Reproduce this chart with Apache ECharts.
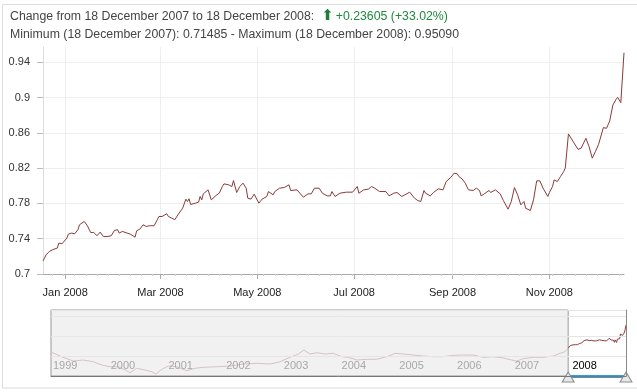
<!DOCTYPE html>
<html><head><meta charset="utf-8">
<script src="https://cdn.jsdelivr.net/npm/echarts@6/dist/echarts.min.js"></script>
<style>html,body{margin:0;padding:0;background:#fff}#c{width:637px;height:392px}</style>
</head><body><div id="c"></div>
<script>
// ---- data ----
const periodStart = '2007-12-18';
const periodEnd = '2008-12-18';
const historyStart = '1999-01-01';

const dates2008 = [
'2007-12-18','2007-12-20','2007-12-22','2007-12-24','2007-12-27','2007-12-28','2007-12-30','2007-12-31',
'2008-01-02','2008-01-03','2008-01-05','2008-01-07','2008-01-09','2008-01-10','2008-01-13','2008-01-15','2008-01-17','2008-01-19','2008-01-21','2008-01-23','2008-01-25','2008-01-28','2008-01-30',
'2008-02-01','2008-02-03','2008-02-04','2008-02-06','2008-02-07','2008-02-09','2008-02-11','2008-02-14','2008-02-15','2008-02-17','2008-02-19','2008-02-21','2008-02-23','2008-02-26','2008-02-28','2008-02-29',
'2008-03-02','2008-03-05','2008-03-06','2008-03-08','2008-03-10','2008-03-12','2008-03-13','2008-03-15','2008-03-17','2008-03-18','2008-03-19','2008-03-20','2008-03-23','2008-03-25','2008-03-26','2008-03-27','2008-03-28','2008-03-31',
'2008-04-02','2008-04-05','2008-04-07','2008-04-09','2008-04-10','2008-04-13','2008-04-15','2008-04-16','2008-04-18','2008-04-20','2008-04-22','2008-04-24','2008-04-25','2008-04-27','2008-04-29',
'2008-05-02','2008-05-04','2008-05-07','2008-05-08','2008-05-11','2008-05-12','2008-05-15','2008-05-18','2008-05-21','2008-05-22','2008-05-26','2008-05-30',
'2008-06-02','2008-06-04','2008-06-06','2008-06-09','2008-06-11','2008-06-14','2008-06-16','2008-06-17','2008-06-19','2008-06-22','2008-06-26','2008-06-30',
'2008-07-03','2008-07-04','2008-07-07','2008-07-10','2008-07-12','2008-07-14','2008-07-17','2008-07-21','2008-07-23','2008-07-26','2008-07-28','2008-07-31',
'2008-08-02','2008-08-05','2008-08-08','2008-08-10','2008-08-12','2008-08-14','2008-08-15','2008-08-18','2008-08-20','2008-08-23','2008-08-26','2008-08-28','2008-08-31',
'2008-09-02','2008-09-04','2008-09-05','2008-09-07','2008-09-09','2008-09-11','2008-09-12','2008-09-14','2008-09-16','2008-09-18','2008-09-19','2008-09-21','2008-09-24','2008-09-25','2008-09-28','2008-09-29',
'2008-10-01','2008-10-03','2008-10-06','2008-10-08','2008-10-10','2008-10-12','2008-10-14','2008-10-16','2008-10-17','2008-10-20','2008-10-22','2008-10-24','2008-10-26','2008-10-28','2008-10-31',
'2008-11-01','2008-11-03','2008-11-04','2008-11-06','2008-11-08','2008-11-10','2008-11-11','2008-11-13','2008-11-16','2008-11-19','2008-11-21','2008-11-24','2008-11-26','2008-11-28','2008-11-30',
'2008-12-02','2008-12-05','2008-12-07','2008-12-09','2008-12-11','2008-12-13','2008-12-14','2008-12-16','2008-12-18'
];
const values2008 = [
0.71485,0.7219,0.7256,0.7275,0.7294,0.7351,0.7343,0.7343,
0.7407,0.7452,0.7464,0.7456,0.7502,0.7558,0.7596,0.7547,0.7471,0.7471,0.7434,0.7475,0.7426,0.7426,0.7434,
0.7494,0.7502,0.7464,0.7483,0.7464,0.7464,0.7452,0.7418,0.7490,0.7509,0.7558,0.7539,0.7547,0.7547,0.7615,0.7652,
0.7652,0.7683,0.7652,0.7634,0.7615,0.7671,0.7683,0.7747,0.7849,0.7822,0.7853,0.7788,0.7803,0.7815,0.7879,0.7841,0.7909,0.7954,
0.7841,0.7890,0.7916,0.7992,0.8022,0.8011,0.7992,0.8060,0.7924,0.7992,0.8030,0.7973,0.7860,0.7849,0.7905,
0.7803,0.7849,0.7879,0.7935,0.7898,0.7935,0.7973,0.7981,0.8011,0.7947,0.7954,0.7871,
0.7909,0.7909,0.7973,0.7973,0.7916,0.7886,0.7886,0.7935,0.7879,0.7916,0.7928,0.7928,
0.7992,0.7916,0.7954,0.7962,0.7992,0.7973,0.7935,0.7935,0.7886,0.7916,0.7924,0.7879,
0.7898,0.7928,0.7860,0.7834,0.7822,0.7947,0.7916,0.7886,0.7924,0.7966,0.7954,0.8049,0.8098,
0.8143,0.8135,0.8105,0.8078,0.8030,0.7954,0.7954,0.7947,0.7973,0.7947,0.7886,0.7909,0.7947,0.7924,0.7954,0.7954,
0.7909,0.7833,0.7735,0.7822,0.7980,0.7897,0.7784,0.7822,0.7746,0.7720,0.7841,0.8056,0.8056,0.7973,0.7879,
0.7924,0.7992,0.8067,0.8048,0.8105,0.8162,0.8200,0.8588,0.8501,0.8414,0.8426,0.8539,0.8445,0.8313,0.8388,
0.8471,0.8660,0.8652,0.8735,0.8916,0.8980,0.9003,0.8943,0.95090
];

const historyDates = ['1999-01-05','1999-03-09','1999-05-22','1999-07-24','1999-09-26','1999-11-18',
'2000-01-09','2000-03-02','2000-04-24','2000-05-15','2000-06-26','2000-08-18','2000-09-29','2000-10-27','2000-12-02',
'2001-01-12','2001-03-07','2001-05-09','2001-06-30','2001-08-22','2001-11-15',
'2002-02-07','2002-05-02','2002-07-26','2002-10-18','2002-12-20',
'2003-02-22','2003-04-15','2003-05-21','2003-06-28','2003-08-10','2003-10-01','2003-11-23',
'2004-01-15','2004-02-26','2004-04-19','2004-06-21','2004-08-23','2004-10-26','2004-12-17',
'2005-02-08','2005-04-12','2005-06-14','2005-08-17','2005-10-19','2005-12-21',
'2006-02-23','2006-04-27','2006-06-29','2006-08-31','2006-11-03','2006-12-26',
'2007-01-26','2007-03-09','2007-05-12','2007-07-14','2007-09-15','2007-10-28','2007-11-28'];
const historyValues = [0.6709,0.6258,0.5817,0.5919,0.5745,0.5406,
0.5232,0.5232,0.4822,0.4617,0.5068,0.4894,0.4719,0.4483,0.4965,
0.5304,0.5232,0.4822,0.5068,0.5171,0.5232,
0.5304,0.5509,0.5581,0.5509,0.5745,
0.6196,0.6535,0.6945,0.6535,0.6668,0.6535,0.6606,
0.6258,0.6196,0.5919,0.5991,0.5991,0.6258,0.6606,
0.6535,0.6432,0.6329,0.6258,0.6258,0.6401,
0.6432,0.6432,0.6196,0.6258,0.6124,0.5919,
0.5817,0.6053,0.6196,0.6196,0.6329,0.6606,0.6771];

const xTickDates = ['2008-01-01','2008-03-01','2008-05-01','2008-07-01','2008-09-01','2008-11-01'];
const xTickLabels = ['Jan 2008','Mar 2008','May 2008','Jul 2008','Sep 2008','Nov 2008'];
const yMin = 0.7, yMax = 0.9574, yStep = 0.04;
const navYearDates = ['1999-01-01','2000-01-01','2001-01-01','2002-01-01','2003-01-01','2004-01-01','2005-01-01','2006-01-01','2007-01-01','2008-01-01'];
const navYearLabels = ['1999','2000','2001','2002','2003','2004','2005','2006','2007','2008'];
const navMin = 0.428, navMax = 1.105;

// ---- helpers ----
const DAY = 864e5;
function ts(s){const p=s.split('-').map(Number);return new Date(p[0],p[1]-1,p[2]).getTime();}
const monthNames=['January','February','March','April','May','June','July','August','September','October','November','December'];
function longDate(s){const p=s.split('-').map(Number);return p[2]+' '+monthNames[p[1]-1]+' '+p[0];}
function lookup(times, labels, v){for(let i=0;i<times.length;i++){if(Math.abs(times[i]-v)<DAY/2)return labels[i];}return '';}

const mainData = dates2008.map((d,i)=>[ts(d), values2008[i]]);
const historyData = historyDates.map((d,i)=>[ts(d), historyValues[i]]);
const xTickTimes = xTickDates.map(ts);
const navYearTimes = navYearDates.map(ts);
const minorTicks = [];
for (let t = ts('2007-12-24'); t <= ts(periodEnd); t += 7*DAY) minorTicks.push(t);

const first = values2008[0], last = values2008[values2008.length-1];
let minI=0, maxI=0;
values2008.forEach((v,i)=>{ if(v<values2008[minI]) minI=i; if(v>values2008[maxI]) maxI=i; });
const change = last-first, pct = change/first*100;
const sign = change>=0?'+':'-';
const line1 = '{t|Change from '+longDate(periodStart)+' to '+longDate(periodEnd)+':}{arr|⬆}{g|'+sign+Math.abs(change).toFixed(5)+' ('+sign+Math.abs(pct).toFixed(2)+'%)}';
const line2 = '{t|Minimum ('+longDate(dates2008[minI])+'): '+values2008[minI].toFixed(5)+' - Maximum ('+longDate(dates2008[maxI])+'): '+values2008[maxI].toFixed(5)+'}';

const FF = 'Liberation Sans';
const HF = 12.3;
const chart = echarts.init(document.getElementById('c'), null, {renderer:'canvas'});
chart.setOption({
  animation: false,
  backgroundColor: '#fff',
  textStyle: {fontFamily: FF},
  title: {
    left: 10, top: 7, padding: 0,
    text: line1 + '\n' + line2,
    textStyle: {
      fontWeight: 'normal', fontSize: HF, fontFamily: FF, color: '#444', lineHeight: 18.5,
      rich: {
        t: {fontSize: HF, fontFamily: FF, color: '#444', fontWeight: 'normal', lineHeight: 18.5},
        g: {fontSize: HF, fontFamily: FF, color: '#1d8a3c', fontWeight: 'normal', lineHeight: 18.5},
        arr: {fontSize: 15, fontFamily: 'DejaVu Sans', color: '#1f7d37', padding: [0, 2, 0, 7], lineHeight: 18.5}
      }
    }
  },
  graphic: [{
    type: 'rect', silent: true, z: -10,
    shape: {x: 2.5, y: 4.5, width: 700, height: 383.5},
    style: {fill: 'none', stroke: '#dcdcdc', lineWidth: 1}
  }],
  grid: [
    {left: 43, right: 13, top: 47, height: 227},
    {left: 51, right: 11, top: 310, height: 66}
  ],
  xAxis: [
    {
      gridIndex: 0, type: 'value', min: ts(periodStart), max: ts(periodEnd),
      axisLine: {lineStyle: {color: '#aaaaaa'}},
      axisTick: {customValues: xTickTimes, length: 5, lineStyle: {color: '#aaaaaa'}},
      axisLabel: {customValues: xTickTimes, formatter: v => lookup(xTickTimes, xTickLabels, v),
                  color: '#222', fontSize: 11, fontFamily: FF, margin: 13},
      splitLine: {show: true, lineStyle: {color: '#eeeeee'}}
    },
    {
      gridIndex: 0, type: 'value', min: ts(periodStart), max: ts(periodEnd), position: 'bottom',
      axisLine: {show: false},
      axisTick: {customValues: minorTicks, length: 2, lineStyle: {color: '#cccccc'}},
      axisLabel: {show: false}, splitLine: {show: false}
    },
    {
      gridIndex: 1, type: 'value', min: ts(historyStart), max: ts(periodEnd), z: 10,
      axisLine: {lineStyle: {color: '#777777', width: 1}},
      axisTick: {show: false},
      axisLabel: {inside: true, customValues: navYearTimes, formatter: v => lookup(navYearTimes, navYearLabels, v),
                  align: 'left', padding: [0, 0, 0, 2], margin: 5, fontSize: 11, fontFamily: FF,
                  color: v => (v >= ts(periodStart) ? '#000000' : '#a8a8a8')},
      splitLine: {show: false}
    }
  ],
  yAxis: [
    {
      gridIndex: 0, type: 'value', min: yMin, max: yMax, interval: yStep,
      axisLine: {show: true, lineStyle: {color: '#dddddd'}},
      axisTick: {show: true, length: 6, lineStyle: {color: '#bbbbbb'}},
      axisLabel: {showMaxLabel: false, margin: 13, color: '#333', fontSize: 11, fontFamily: FF},
      splitLine: {show: true, lineStyle: {color: ['#eeeeee','#eeeeee','#eeeeee','#eeeeee','#eeeeee','#eeeeee','#eeeeee','rgba(0,0,0,0)']}}
    },
    {
      gridIndex: 1, type: 'value', min: navMin, max: navMax, interval: 0.2051, position: 'right', z: 10,
      axisLine: {show: true, lineStyle: {color: '#888888'}},
      axisTick: {show: false}, axisLabel: {show: false},
      splitLine: {show: true, lineStyle: {color: '#e6e6e6'}}
    }
  ],
  series: [
    {
      type: 'line', xAxisIndex: 0, yAxisIndex: 0, data: mainData, showSymbol: false, silent: true,
      lineStyle: {color: '#8b3a3a', width: 1}
    },
    {
      type: 'line', xAxisIndex: 2, yAxisIndex: 1, data: historyData.concat([mainData[0]]),
      showSymbol: false, silent: true, lineStyle: {color: '#d6c2c2', width: 1},
      markArea: {silent: true, itemStyle: {color: '#f1f1f1', borderColor: '#999999', borderWidth: 1},
                 data: [[{xAxis: ts(historyStart)}, {xAxis: ts(periodStart)}]]}
    },
    {
      type: 'line', xAxisIndex: 2, yAxisIndex: 1, data: mainData, showSymbol: false, silent: true,
      lineStyle: {color: '#8b3a3a', width: 1},
      markLine: {silent: true, symbol: 'none', label: {show: false},
                 lineStyle: {color: '#3b9ad8', width: 3, type: 'solid'},
                 data: [[{coord: [ts(periodStart), navMin]}, {coord: [ts(periodEnd), navMin]}]]},
      markPoint: {silent: true, symbol: 'triangle', symbolSize: [12, 10], symbolOffset: [0, 1],
                  itemStyle: {color: '#e6eaec', borderColor: '#8c8c8c', borderWidth: 1},
                  label: {show: false},
                  data: [{coord: [ts(periodStart), navMin]}, {coord: [ts(periodEnd), navMin]}]}
    }
  ]
});
</script></body></html>
